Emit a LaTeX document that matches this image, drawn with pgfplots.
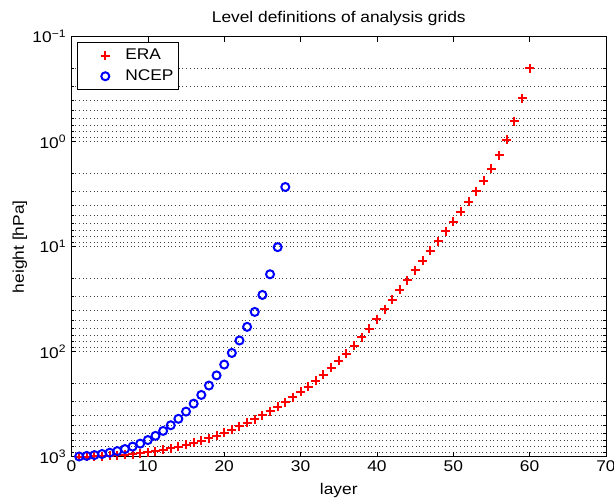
\documentclass[border=0pt]{standalone}
\usepackage{fontspec}
\setmainfont[FakeStretch=1.12]{Liberation Sans}
\usepackage{pgfplots}
\pgfplotsset{compat=1.18}
\pgfplotstableread{
x p
1 1000
2 997.63
3 994.09
4 988.93
5 981.77
6 972.32
7 960.38
8 945.80
9 928.52
10 908.53
11 885.88
12 860.67
13 833.04
14 803.17
15 771.29
16 737.64
17 702.49
18 666.14
19 628.88
20 591.03
21 552.89
22 514.77
23 476.97
24 439.78
25 403.45
26 368.23
27 334.32
28 301.90
29 271.09
30 241.97
31 214.57
32 188.87
33 164.94
34 142.84
35 122.59
36 104.22
37 87.73
38 73.07
39 60.18
40 49.07
41 39.60
42 31.96
43 25.80
44 20.82
45 16.81
46 13.56
47 10.95
48 8.84
49 7.13
50 5.76
51 4.65
52 3.74
53 2.98
54 2.35
55 1.81
56 1.34
57 0.956
58 0.636
59 0.384
60 0.200
}\eradata
\pgfplotstableread{
x p
1 995.0
2 982.1
3 964.4
4 942.5
5 915.9
6 883.8
7 845.8
8 801.4
9 750.8
10 694.3
11 632.9
12 568.1
13 501.7
14 435.7
15 372.0
16 312.5
17 258.2
18 210.1
19 168.2
20 132.6
21 102.8
22 78.2
23 58.0
24 41.8
25 28.8
26 18.3
27 10.1
28 2.7
}\ncepdata
\begin{document}
\fontsize{15.5}{18}\selectfont
\begin{tikzpicture}
\begin{axis}[
  scale only axis,
  width=534.5pt, height=420pt,
  xmin=0, xmax=70, ymin=0.1, ymax=1000,
  ymode=log, log basis y=10, y dir=reverse,
  xtick={0,10,...,70},
  ytick={0.1,1,10,100,1000},
  minor ytick={0.2,0.3,0.4,0.5,0.6,0.7,0.8,0.9,2,3,4,5,6,7,8,9,20,30,40,50,60,70,80,90,200,300,400,500,600,700,800,900},
  yticklabels={10\textsuperscript{−1},10\textsuperscript{0},10\textsuperscript{1},10\textsuperscript{2},10\textsuperscript{3}},
  /pgf/number format/assume math mode=true,
  tick align=inside,
  major tick length=5pt, minor tick length=3pt,
  ymajorgrids, yminorgrids,
  major grid style={black!75, line width=0.6pt, dash pattern=on 0.7pt off 3pt},
  minor grid style={black!75, line width=0.6pt, dash pattern=on 0.7pt off 3pt},
  axis line style={line width=0.8pt},
  every tick/.style={black, line width=0.6pt},
  xticklabel style={yshift=1.5pt},
  legend style={at={(0,1)}, anchor=north west, xshift=5.5pt, yshift=-5.3pt,
    draw=black, line width=0.6pt, inner xsep=3pt, inner ysep=4.8pt, row sep=3.6pt,
    nodes={inner sep=2pt, text depth=0.15em}},
  legend cell align=left,
  legend image code/.code={\path[draw=none,fill=none] (0pt,-4pt) rectangle (43pt,4pt); \draw[#1] plot coordinates {(25pt,0pt)};},
]
\addplot[only marks, mark=+, color=red, mark size=4.5pt, line width=2pt] table[x=x,y=p] {\eradata};
\addlegendentry{ERA}
\addplot[only marks, mark=o, color=blue, mark size=4pt, line width=2pt] table[x=x,y=p] {\ncepdata};
\addlegendentry{NCEP}
\coordinate (tl) at (axis cs:0,0.1);
\coordinate (tc) at (axis cs:35,0.1);
\coordinate (bc) at (axis cs:35,1000);
\coordinate (lc) at (axis cs:0,10);
\end{axis}
\node[anchor=base] at ([yshift=14.4pt]tc) {Level definitions of analysis grids};
\node[anchor=base] at ([yshift=-37.5pt]bc) {layer};
\node[anchor=base, rotate=90] at ([xshift=-47.5pt]lc) {height [hPa]};
\pgfresetboundingbox
\path ([xshift=-71.5pt,yshift=36.7pt]tl) rectangle ++(614pt,-501pt);
\end{tikzpicture}
\end{document}
